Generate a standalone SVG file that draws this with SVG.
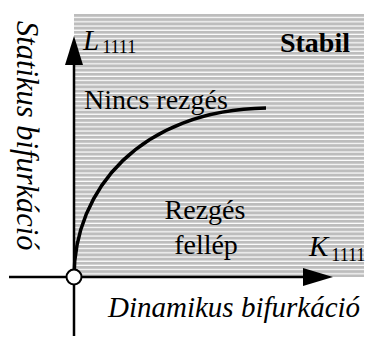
<svg xmlns="http://www.w3.org/2000/svg" width="366" height="338" viewBox="0 0 366 338">
<style>
text{font-family:'Liberation Serif','Times New Roman',serif;fill:#000}
.it{font-style:italic}
.ax{stroke:#000;stroke-width:2.5;fill:none}
</style>
<defs>
<pattern id="stripes" x="0" y="14" width="8" height="4.2" patternUnits="userSpaceOnUse">
<rect x="0" y="0" width="8" height="4.2" fill="#bdbdbd"/>
<rect x="0" y="3" width="8" height="1.2" fill="#ffffff"/>
</pattern>
</defs>
<rect x="74" y="14" width="290" height="263" fill="url(#stripes)"/>
<g id="connectors">
<line class="ax" x1="74" y1="336" x2="74" y2="62"/>
<polygon points="74,36 65,65 83,65" fill="#000"/>
<line class="ax" x1="9" y1="277" x2="306" y2="277"/>
<polygon points="333,277 303,268 303,286" fill="#000"/>
<path d="M74,277 C74,190 140,110 266,108" fill="none" stroke="#000" stroke-width="3.5"/>
</g>
<g id="origin">
<circle cx="74" cy="277" r="7.5" fill="#fff" stroke="#000" stroke-width="2"/>
</g>
<g id="yaxis-label">
<text class="it" font-size="30.5" transform="translate(17,21) rotate(90)">Statikus bifurkáció</text>
</g>
<g id="L-label">
<text x="83" y="50" font-size="29"><tspan class="it">L</tspan><tspan font-size="18" dx="3" dy="3">1111</tspan></text>
</g>
<g id="stabil">
<text x="350" y="52" font-size="28" font-weight="bold" text-anchor="end">Stabil</text>
</g>
<g id="nincs">
<text x="84" y="109" font-size="28">Nincs rezgés</text>
</g>
<g id="rezges">
<text x="205" y="219" font-size="28" text-anchor="middle">Rezgés</text>
<text x="206" y="254" font-size="28" text-anchor="middle">fellép</text>
</g>
<g id="K-label">
<text x="309" y="256" font-size="29"><tspan class="it">K</tspan><tspan font-size="18" dx="3" dy="5">1111</tspan></text>
</g>
<g id="xaxis-label">
<text class="it" x="108" y="317" font-size="29">Dinamikus bifurkáció</text>
</g>
</svg>
